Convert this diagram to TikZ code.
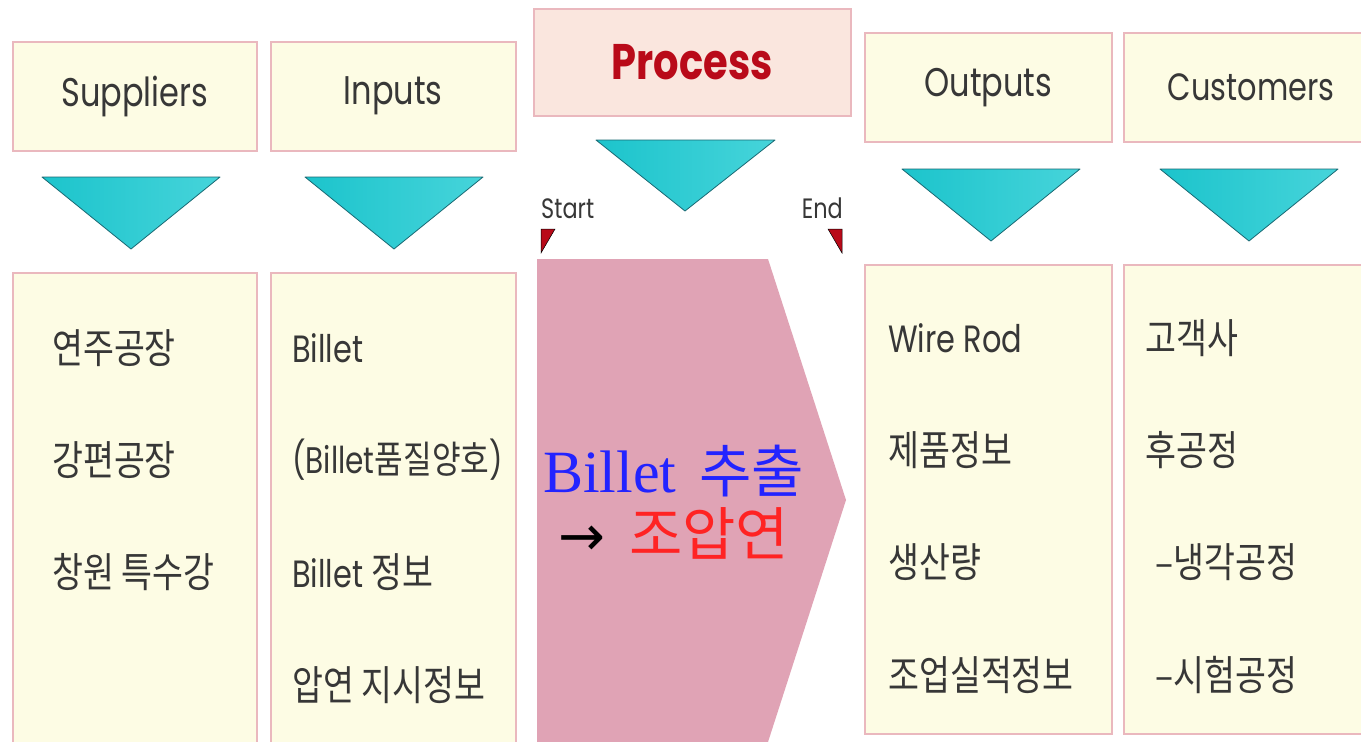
\documentclass[tikz,border=0pt]{standalone}
\usepackage{fontspec}
\setmainfont{Poppins}
\newfontfamily\hd[FakeStretch=0.8]{Poppins}
\newfontfamily\kr[FakeStretch=0.82]{Noto Sans CJK KR}
\newfontfamily\krw{Noto Sans CJK KR}
\newfontfamily\serf{Liberation Serif}
\newfontfamily\dv{DejaVu Sans}
\definecolor{cream}{RGB}{253,252,228}
\definecolor{pinkline}{RGB}{234,184,190}
\definecolor{prochead}{RGB}{250,230,222}
\definecolor{tealA}{RGB}{28,196,204}
\definecolor{tealB}{RGB}{70,212,218}
\definecolor{tealdark}{RGB}{25,105,115}
\definecolor{procfill}{RGB}{224,163,181}
\definecolor{txt}{RGB}{55,55,55}
\definecolor{darkred}{RGB}{185,10,25}
\definecolor{bblue}{RGB}{35,35,255}
\definecolor{rred}{RGB}{255,35,35}
\tikzset{
  hbox/.style={draw=pinkline, line width=1.5pt, fill=cream, inner sep=0pt, anchor=north west, text=txt, font=\hd\fontsize{40}{46}\selectfont},
  bbox/.style={draw=pinkline, line width=1.5pt, fill=cream, inner sep=0pt, anchor=north west},
  tri/.style={draw=tealdark, line width=0.8pt, left color=tealA, right color=tealB, line join=round},
  item/.style={anchor=west, inner sep=0pt, text=txt, font=\fontsize{41}{46}\selectfont},
  flagmark/.style={fill=darkred, draw=black, line width=0.5pt},
  lbl/.style={inner sep=0pt, text=txt, font=\hd\fontsize{28}{32}\selectfont}
}
\begin{document}
\begin{tikzpicture}[x=1pt,y=-1pt]
\useasboundingbox (0,0) rectangle (1361,742);
\clip (0,0) rectangle (1361,742);
\fill[white] (0,0) rectangle (1361,742);
% headers
\node[hbox, minimum width=244, minimum height=109] (suph) at (12,41) {Suppliers};
\node[hbox, minimum width=245, minimum height=109] (inph) at (270,41) {Inputs};
\node[hbox, fill=prochead, minimum width=317, minimum height=107, text=darkred, font=\hd\bfseries\fontsize{50}{56}\selectfont] (proch) at (533,8) {Process};
\node[hbox, minimum width=247, minimum height=109] (outh) at (864,32) {Outputs};
\node[hbox, minimum width=260, minimum height=109, text width=238, align=left] (custh) at (1123,32) {\hspace*{33pt}{\fontsize{38}{44}\selectfont Customers}};
% triangles
\path[tri] (42,177) -- (220,177) -- (131,249) -- cycle;
\path[tri] (305,177) -- (483,177) -- (394,249) -- cycle;
\path[tri] (596,140) -- (775,140) -- (685,211) -- cycle;
\path[tri] (902,169) -- (1080,169) -- (991,241) -- cycle;
\path[tri] (1160,169) -- (1338,169) -- (1249,241) -- cycle;
% body boxes
\node[bbox, minimum width=244, minimum height=470] (supb) at (12,272) {};
\node[bbox, minimum width=245, minimum height=470] (inpb) at (270,272) {};
\node[bbox, minimum width=247, minimum height=469] (outb) at (864,264) {};
\node[bbox, minimum width=260, minimum height=469] (custb) at (1123,264) {};
% process arrow
\fill[procfill] (537,259) -- (768,259) -- (846,500) -- (768,742) -- (537,742) -- cycle;
\node[anchor=base west, inner sep=0pt] (pl1) at (543,492) {\fontsize{60}{66}\selectfont\color{bblue}\serf Billet\hspace{0.38em}{\krw\fontsize{57}{62}\selectfont 추출}};
\node[anchor=base west, inner sep=0pt] (pl2) at (558,555) {{\dv\fontsize{56}{60}\selectfont →}\hspace{24pt}{\color{rred}\krw\fontsize{58}{62}\selectfont 조압연}};
% start / end
\node[lbl, anchor=base west] (start) at (541,218) {Start};
\node[lbl, anchor=base east] (end) at (843,218) {End};
\path[flagmark] (541,229) -- (555,229) -- (541,253) -- cycle;
\path[flagmark] (828,229) -- (842,229) -- (842,253) -- cycle;
% suppliers items
\node[item] (s1) at (52,348) {\kr 연주공장};
\node[item] (s2) at (52,460) {\kr 강편공장};
\node[item] (s3) at (52,572) {\kr 창원 특수강};
% inputs items
\node[item] (i1) at (292,348) {\hd\fontsize{38}{44}\selectfont Billet};
\node[item] (i2) at (292,460) {{\hd\fontsize{37}{44}\selectfont (Billet}{\kr\fontsize{38}{44}\selectfont 품질양호}{\hd\fontsize{37}{44}\selectfont )}};
\node[item] (i3) at (292,572) {{\hd\fontsize{38}{44}\selectfont Billet }{\kr 정보}};
\node[item] (i4) at (292,685) {\kr 압연 지시정보};
% outputs items
\node[item] (o1) at (888,338) {\hd\fontsize{38}{44}\selectfont Wire Rod};
\node[item] (o2) at (888,450) {\kr 제품정보};
\node[item] (o3) at (888,562) {\kr 생산량};
\node[item] (o4) at (888,675) {\kr 조업실적정보};
% customers items
\node[item] (c1) at (1145,338) {\kr 고객사};
\node[item] (c2) at (1145,450) {\kr 후공정};
\node[item] (c3) at (1155,562) {\kr –냉각공정};
\node[item] (c4) at (1155,675) {\kr –시험공정};
\end{tikzpicture}
\end{document}
